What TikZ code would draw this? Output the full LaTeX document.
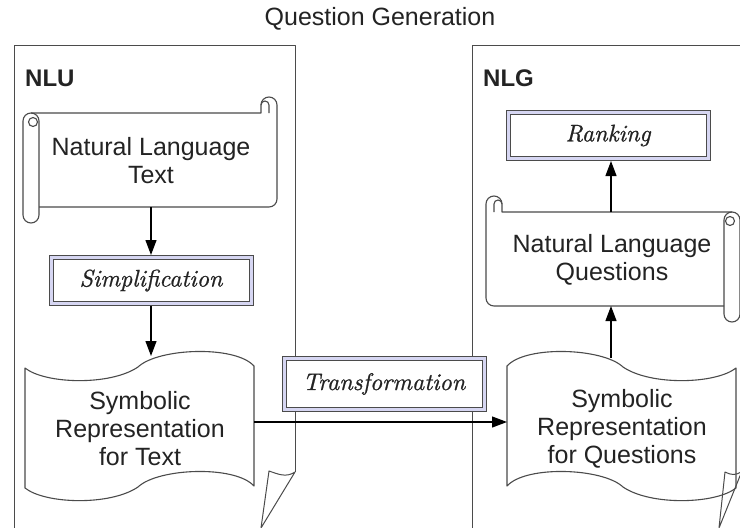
\documentclass[tikz,border=0pt]{standalone}
\usepackage{fontspec}
\setsansfont{Liberation Sans}
\newfontfamily\procfont{lmroman10-italic.otf}[FakeBold=0.8]
\usetikzlibrary{arrows.meta}
\definecolor{lav}{RGB}{214,214,242}
\definecolor{ink}{RGB}{35,35,35}
\definecolor{strokegray}{RGB}{75,75,75}

% vertical scroll outline in local units: 254 x 126, roll width 16
\newcommand\scrolloutline{%
  \draw[shapeline] (8,16) -- (238,16) -- (238,8)
      arc[start angle=180,end angle=360,radius=8] -- (254,102)
      arc[start angle=0,end angle=90,radius=8] -- (16,110);
  \draw[shapeline] (0,24) -- (0,118)
      arc[start angle=180,end angle=0,radius=8] -- (16,24)
      arc[start angle=0,end angle=-180,radius=8] -- cycle;
  \draw[shapeline] (10,25) circle[radius=4.5];
  \draw[shapeline] (238,8) arc[start angle=180,end angle=360,radius=4] -- (246,16);
}

\begin{document}
\begin{tikzpicture}[x=1pt,y=-1pt,
  panel/.style={draw=strokegray, line width=1pt, line join=round},
  shapeline/.style={draw=strokegray, line width=1.1pt, line join=round},
  procbox/.style={draw=strokegray, line width=1pt, double=lav, double distance=3pt,
    fill=white, minimum width=200pt, minimum height=46pt, inner sep=0pt,
    outer sep=2.5pt, font=\procfont\fontsize{24}{28}\selectfont, text=ink},
  txt/.style={font=\sffamily\fontsize{25}{28}\selectfont, text=ink, align=center},
  heading/.style={font=\sffamily\bfseries\fontsize{24}{28}\selectfont, text=ink,
    anchor=west, inner sep=0pt},
  arr/.style={draw=black, line width=1.2pt, -{Triangle[width=11pt,length=15pt]}},
]
\fill[white] (0,0) rectangle (740,528);
\useasboundingbox (0,0) rectangle (740,528);
\clip (0,0) rectangle (740,528);

% title
\node[txt] (title) at (380,19) {Question Generation};

% NLU panel with folded corner
\draw[panel] (14,540) -- (14,45) -- (295,45) -- (295,472);
\draw[panel] (295,472) .. controls (286,478) and (278,474) .. (269,471) -- (261,528) -- cycle;
\node[heading] (nlu) at (25,78) {NLU};

% NLG panel with folded corner
\draw[panel] (472,540) -- (472,45) -- (742,45) -- (742,471);
\draw[panel] (742,471) .. controls (736,476) and (731,475) .. (725,472) -- (719,528) -- cycle;
\node[heading] (nlg) at (483,78) {NLG};

% scrolls
\begin{scope}[shift={(23,97)}]
  \scrolloutline
\end{scope}
\begin{scope}[shift={(740,196)}, xscale=-1]
  \scrolloutline
\end{scope}
\node[txt] (nlt) at (151,161) {Natural Language\\Text};
\node[txt] (nlq) at (612,260) {Natural Language\\Questions};

% tapes
\draw[shapeline] (25,368) .. controls (45,384) and (110,386) .. (138,367)
  .. controls (158,348) and (235,345) .. (254,366) -- (254,486)
  .. controls (235,465) and (158,468) .. (138,487)
  .. controls (110,506) and (45,504) .. (25,488) -- cycle;
\draw[shapeline] (507,366) .. controls (526,345) and (603,348) .. (623,367)
  .. controls (651,386) and (716,384) .. (736,368) -- (736,488)
  .. controls (716,504) and (651,506) .. (623,487)
  .. controls (603,468) and (526,465) .. (507,486) -- cycle;
\node[txt] (srt) at (140,429) {Symbolic\\Representation\\for Text};
\node[txt] (srq) at (622,429) {Symbolic\\Representation\\for Questions};

% process boxes
\node[procbox] (simp) at (151,280.5) {Simplification};
\node[procbox, minimum height=51pt] (trans) at (384,384) {Transformation};
\node[procbox] (rank) at (608,135.5) {Ranking};

% connector ends on the shapes
\coordinate (nltB) at (151,207);
\coordinate (srtT) at (151,356);
\coordinate (srtR) at (254,422);
\coordinate (srqL) at (507,422);
\coordinate (srqT) at (611,358);
\coordinate (nlqB) at (611,306);
\coordinate (nlqT) at (611,212);

\draw[arr] (nltB) -- (simp.north);
\draw[arr] (simp.south) -- (srtT);
\draw[arr] (srtR) -- (srqL);
\draw[arr] (srqT) -- (nlqB);
\draw[arr] (nlqT) -- (nlqT |- rank.south);
\end{tikzpicture}
\end{document}
